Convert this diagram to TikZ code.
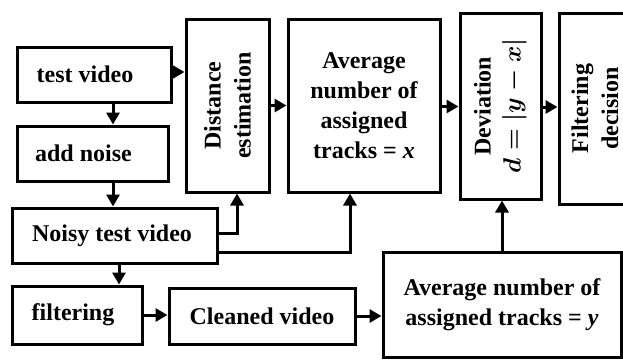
\documentclass[tikz,border=0pt]{standalone}
\usepackage{fontspec}
\setmainfont{Liberation Serif}
\usetikzlibrary{arrows.meta}
\begin{document}
\begin{tikzpicture}[x=1pt,y=-1pt,
  box/.style={draw, line width=3pt, inner sep=0pt, align=center,
    font=\fontsize{24}{30}\selectfont\bfseries\boldmath},
  vbox/.style={box, rotate=90},
  arr/.style={line width=3pt, -{Triangle[length=12pt,width=13pt]}}]
\useasboundingbox (0,0) rectangle (623,360);
\clip (0,0) rectangle (623,360);
\node[box, minimum width=154pt, minimum height=55pt] (tv) at (94,74.5) {test video\hspace*{18pt}};
\node[box, minimum width=151pt, minimum height=55pt] (an) at (92.5,153.5) {add noise\hspace*{18pt}};
\node[box, minimum width=205pt, minimum height=55pt] (nv) at (114.5,235.5) {Noisy test video\hspace*{5pt}};
\node[box, minimum width=130pt, minimum height=58pt] (fl) at (77,315) {filtering\hspace*{8pt}};
\node[box, minimum width=186pt, minimum height=56pt] (cv) at (262,316) {Cleaned video};
\node[vbox, minimum width=173pt, minimum height=83pt] (de) at (227.5,105.5) {Distance\\estimation};
\node[box, minimum width=152pt, minimum height=173pt] (ax) at (364,105.5) {Average\\number of\\assigned\\tracks = \textit{x}};
\node[vbox, minimum width=186pt, minimum height=81pt] (dv) at (500.5,106) {Deviation\\$d=|y-x|$};
\node[vbox, minimum width=191pt, minimum height=72pt] (fd) at (595,108.5) {Filtering\\decision};
\node[box, minimum width=238pt, minimum height=105pt] (ay) at (502,304.5) {Average number of\\assigned tracks = \textit{y}};
\draw[arr] ([yshift=2.5pt]tv.east) -- ([yshift=2.5pt]tv.east -| de.north);
\draw[arr] (de.south) -- (de.south -| ax.west);
\draw[arr] ([yshift=-1pt]ax.east) -- ([yshift=-1pt]ax.east -| dv.north);
\draw[arr] ([yshift=-1pt]dv.south) -- ([yshift=-1pt]dv.south -| fd.north);
\draw[arr] ([xshift=19pt]tv.south) -- ([xshift=19pt]tv.south |- an.north);
\draw[arr] ([xshift=20.5pt]an.south) -- ([xshift=20.5pt]an.south |- nv.north);
\draw[arr] ([yshift=2.5pt]nv.east) -| ([xshift=9.5pt]de.west);
\draw[arr] ([yshift=-16.5pt]nv.east) -| ([xshift=-14pt]ax.south);
\draw[arr] ([xshift=4.5pt]nv.south) -- ([xshift=4.5pt]nv.south |- fl.north);
\draw[arr] (fl.east) -- (fl.east -| cv.west);
\draw[arr] (cv.east) -- (cv.east -| ay.west);
\draw[arr] (ay.north) -- (ay.north |- dv.west);
\end{tikzpicture}
\end{document}
